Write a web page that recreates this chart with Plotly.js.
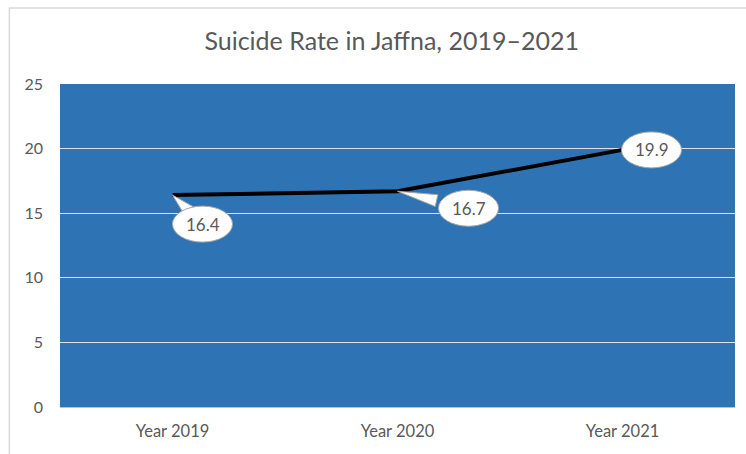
<!DOCTYPE html>
<html>
<head>
<meta charset="utf-8">
<script src="https://cdn.plot.ly/plotly-3.0.1.min.js"></script>
<style>html,body{margin:0;padding:0;background:#fff;}#chart{width:746px;height:454px;}</style>
</head>
<body>
<div id="chart"></div>
<script>
const categories = ["Year 2019", "Year 2020", "Year 2021"];
const rates = [16.4, 16.7, 19.9];
const yTicks = [0, 5, 10, 15, 20, 25];

// callout offsets in pixels (dx right, dy up) relative to each point
const calloutOffsets = [[30, -29], [71, -17], [29, 0]];
const rx = 30, ry = 18;

const shapes = [
  {type: 'rect', xref: 'paper', yref: 'paper', x0: -0.075, x1: 1.05, y0: -0.2, y1: 1.235,
   line: {color: '#D9D9D9', width: 1.5}, fillcolor: 'rgba(0,0,0,0)', layer: 'below'}
];
const annotations = [];
categories.forEach((c, i) => {
  const [dx, dy] = calloutOffsets[i];
  const ang = Math.atan2(dy, dx);
  const px = -Math.sin(ang), py = Math.cos(ang);
  const bx = dx * 0.55, by = dy * 0.55;
  const w = 6;
  shapes.push({type: 'path', xref: 'x', yref: 'y', xsizemode: 'pixel', ysizemode: 'pixel',
    xanchor: c, yanchor: rates[i],
    path: `M0,0 L${(bx + px * w).toFixed(1)},${(by + py * w).toFixed(1)} L${(bx - px * w).toFixed(1)},${(by - py * w).toFixed(1)} Z`,
    fillcolor: '#FFFFFF', line: {color: '#A6A6A6', width: 1}, layer: 'above'});
  shapes.push({type: 'circle', xref: 'x', yref: 'y', xsizemode: 'pixel', ysizemode: 'pixel',
    xanchor: c, yanchor: rates[i],
    x0: dx - rx, x1: dx + rx, y0: dy - ry, y1: dy + ry,
    fillcolor: '#FFFFFF', line: {color: '#A6A6A6', width: 1}, layer: 'above'});
  annotations.push({x: c, y: rates[i], xref: 'x', yref: 'y', text: String(rates[i]),
    showarrow: false, xshift: dx, yshift: dy,
    font: {family: 'Lato, "Noto Sans", sans-serif', size: 17, color: '#595959'}});
});

const trace = {
  x: categories, y: rates, type: 'scatter', mode: 'lines',
  line: {color: '#000000', width: 4},
  hoverinfo: 'skip'
};

const layout = {
  width: 746, height: 454,
  margin: {l: 60, r: 11, t: 84, b: 47},
  paper_bgcolor: '#FFFFFF',
  plot_bgcolor: '#2E74B5',
  title: {text: 'Suicide Rate in Jaffna, 2019–2021', x: 0.525, xanchor: 'center', y: 0.91, yanchor: 'middle',
    font: {family: 'Lato, "Noto Sans", sans-serif', size: 25, color: '#595959'}},
  xaxis: {type: 'category', range: [-0.5, 2.5], showgrid: false, zeroline: false,
    showline: true, linecolor: '#BFBFBF', linewidth: 1, ticks: '',
    ticklabelstandoff: 9,
    tickfont: {family: 'Lato, "Noto Sans", sans-serif', size: 16.5, color: '#595959'}},
  yaxis: {range: [0, 25], tickvals: yTicks, ticktext: yTicks.map(String), showgrid: true,
    gridcolor: '#E0E0E0', gridwidth: 1, zeroline: false, showline: false, ticks: '',
    ticklabelstandoff: 16,
    tickfont: {family: 'Lato, "Noto Sans", sans-serif', size: 16, color: '#595959'}},
  shapes: shapes,
  annotations: annotations,
  showlegend: false
};

Plotly.newPlot('chart', [trace], layout, {displayModeBar: false, staticPlot: true});
</script>
</body>
</html>
